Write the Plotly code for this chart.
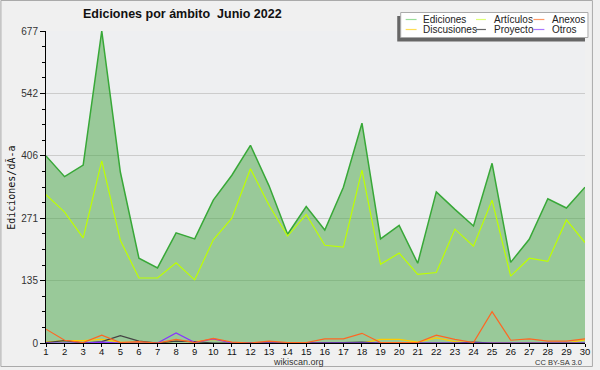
import plotly.graph_objects as go

days = list(range(1, 31))
ediciones = [406, 361, 386, 677, 371, 184, 163, 239, 226, 310, 364, 429, 341, 236, 296, 245, 338, 477, 226, 255, 173, 328, 290, 254, 390, 175, 225, 313, 293, 338]
articulos = [322, 284, 228, 395, 223, 141, 141, 174, 137, 224, 271, 378, 299, 232, 279, 212, 208, 375, 171, 195, 149, 153, 247, 210, 310, 145, 184, 177, 267, 218]
anexos = [30, 6, 1, 17, 1, 3, 0, 8, 1, 10, 2, 0, 4, 1, 1, 9, 9, 21, 1, 1, 1, 17, 8, 1, 68, 6, 9, 4, 4, 9]
discusiones = [2, 5, 5, 8, 2, 1, 0, 4, 3, 8, 1, 0, 1, 1, 1, 1, 0, 0, 8, 8, 2, 11, 3, 0, 0, 0, 1, 0, 0, 7]
proyecto = [1, 5, 0, 3, 16, 4, 0, 4, 3, 0, 0, 0, 0, 0, 0, 0, 1, 2, 0, 0, 0, 0, 0, 2, 0, 0, 0, 0, 0, 0]
otros = [0, 0, 0, 2, 0, 0, 0, 22, 1, 9, 0, 0, 0, 0, 0, 0, 0, 0, 0, 0, 0, 0, 0, 0, 0, 0, 0, 0, 0, 0]
ytick_vals = [0, 135.4, 270.8, 406.2, 541.6, 677]
ytick_text = ["0", "135", "271", "406", "542", "677"]
legend_names = ["Ediciones", "Artículos", "Anexos", "Discusiones", "Proyecto", "Otros"]
legend_colors = ["#99dd99", "#ddff77", "#ff9966", "#ffdd55", "#666666", "#aa77ff"]

W, H = 600, 370
L, R, T, B = 46, 10, 31, 27
PW, PH = W - L - R, H - T - B


def X(px):
    return (px - L) / PW


def Y(py):
    return (H - B - py) / PH


fig = go.Figure()
fig.add_trace(go.Scatter(x=days, y=ediciones, mode="lines", fill="tozeroy",
                         fillcolor="rgba(68,163,65,0.5)", line=dict(color="rgb(56,168,56)", width=1.5),
                         name="Ediciones", showlegend=False))
fig.add_trace(go.Scatter(x=days, y=articulos, mode="lines", line=dict(color="rgb(190,255,0)", width=1.2),
                         name="Artículos", showlegend=False))
fig.add_trace(go.Scatter(x=days, y=discusiones, mode="lines", line=dict(color="#ffcc00", width=1.2),
                         name="Discusiones", showlegend=False))
fig.add_trace(go.Scatter(x=days, y=proyecto, mode="lines", line=dict(color="#444444", width=1.2),
                         name="Proyecto", showlegend=False))
fig.add_trace(go.Scatter(x=days, y=otros, mode="lines", line=dict(color="#8833ff", width=1.2),
                         name="Otros", showlegend=False))
fig.add_trace(go.Scatter(x=days, y=anexos, mode="lines", line=dict(color="#ff6622", width=1.2),
                         name="Anexos", showlegend=False))

shapes = []
# outer border
shapes.append(dict(type="rect", xref="paper", yref="paper", x0=X(0.5), x1=X(597.5), y0=Y(0.5), y1=Y(366.5),
                   line=dict(color="#aaaaaa", width=1), fillcolor="rgba(0,0,0,0)", layer="below"))
# legend shadow and box
shapes.append(dict(type="rect", xref="paper", yref="paper", x0=X(400.5), x1=X(590), y0=Y(16), y1=Y(41.5),
                   line=dict(width=0), fillcolor="#666666"))
shapes.append(dict(type="rect", xref="paper", yref="paper", x0=X(404), x1=X(593), y0=Y(12.5), y1=Y(37.5),
                   line=dict(color="#aaaaaa", width=1), fillcolor="#ffffff"))
annotations = []
cols = [(409, 420, 424), (480, 490, 496), (538, 549, 555)]
rows = [19.5, 29.5]
for i, (name, col) in enumerate(zip(legend_names, legend_colors)):
    r, c = divmod(i, 3)
    lx0, lx1, tx = cols[c]
    yy = rows[r]
    shapes.append(dict(type="line", xref="paper", yref="paper", x0=X(lx0), x1=X(lx1), y0=Y(yy), y1=Y(yy),
                       line=dict(color=col, width=1.2)))
    annotations.append(dict(text=name, xref="paper", yref="paper", x=X(tx), y=Y(yy), xanchor="left",
                            yanchor="middle", showarrow=False,
                            font=dict(family="Liberation Sans, Arial", size=10, color="#222222")))

annotations.append(dict(text="<b>Ediciones por ámbito  Junio 2022</b>", xref="paper", yref="paper",
                        x=X(184), y=Y(14.5), xanchor="center", yanchor="middle", showarrow=False,
                        font=dict(family="Liberation Sans, Arial", size=12.5, color="#111111")))
annotations.append(dict(text="Ediciones/dÃ-a", xref="paper", yref="paper", x=X(10.5), y=Y(188),
                        xanchor="center", yanchor="middle", textangle=-90, showarrow=False,
                        font=dict(family="DejaVu Sans Mono", size=10, color="#111111")))
annotations.append(dict(text="wikiscan.org", xref="paper", yref="paper", x=X(300.5), y=Y(361.5),
                        xanchor="center", yanchor="middle", showarrow=False,
                        font=dict(family="Liberation Sans, Arial", size=9, color="#333333")))
annotations.append(dict(text="CC BY-SA 3.0", xref="paper", yref="paper", x=X(589), y=Y(362),
                        xanchor="right", yanchor="middle", showarrow=False,
                        font=dict(family="Liberation Sans, Arial", size=7.5, color="#333333")))

fig.update_layout(
    width=W, height=H,
    margin=dict(l=L, r=R, t=T, b=B, pad=0),
    paper_bgcolor="#f0f0f0",
    plot_bgcolor="#eeeff1",
    showlegend=False,
    shapes=shapes,
    annotations=annotations,
    xaxis=dict(range=[1, 30], tickmode="array", tickvals=days, ticktext=[str(d) for d in days],
               showgrid=False, zeroline=False, showline=True, linecolor="#000000", linewidth=1,
               ticks="outside", ticklen=3, tickcolor="#000000", ticklabelstandoff=-3,
               tickfont=dict(family="Liberation Sans, Arial", size=9.5, color="#111111"), fixedrange=True),
    yaxis=dict(range=[0, 677], tickmode="array", tickvals=ytick_vals, ticktext=ytick_text,
               showgrid=True, gridcolor="#cccccc", gridwidth=1, zeroline=False,
               showline=True, linecolor="#000000", linewidth=1,
               ticks="outside", ticklen=5, tickcolor="#000000",
               minor=dict(tickmode="linear", tick0=0, dtick=677 / 20, ticks="outside", ticklen=3,
                          tickcolor="#000000", showgrid=False),
               tickfont=dict(family="Liberation Sans, Arial", size=10, color="#333333"), fixedrange=True),
)

fig.write_html("out.html", config={"displayModeBar": False},
               post_script="document.body.style.margin='0';document.body.style.padding='0';")
